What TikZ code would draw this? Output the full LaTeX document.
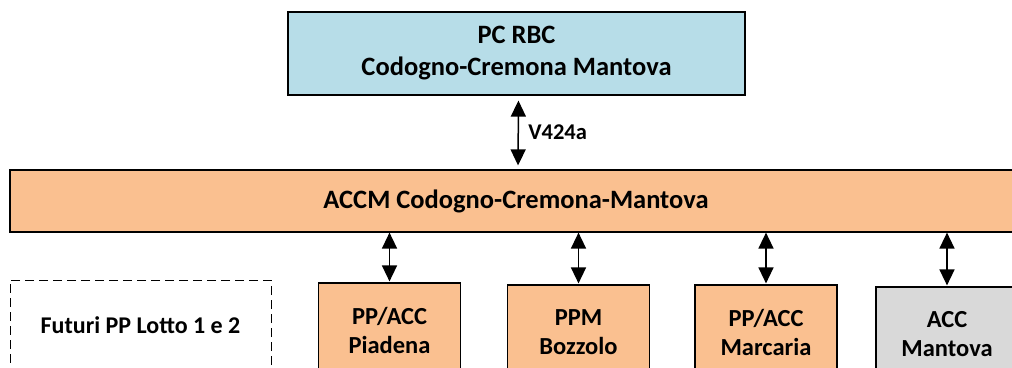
\documentclass[tikz,border=0pt]{standalone}
\usepackage{fontspec}
\setmainfont{Carlito}
\usepackage{xcolor}
\usetikzlibrary{
	positioning,						% Relative positioning
	arrows.meta							% Arrow tips
}
\definecolor{rbc-blue}{HTML}{B7DDE8}
\definecolor{accm-orange}{HTML}{FAC090}
\definecolor{acc-gray}{HTML}{D9D9D9}

\begin{document}
\begin{tikzpicture}[x=1pt, y=-1pt]
		\tikzstyle{block} = [draw, line width=1.2pt, align=center, inner sep=0pt, font=\bfseries\fontsize{24.5}{29}\selectfont]
		\tikzstyle{station} = [block, fill=accm-orange, minimum width=142pt, minimum height=94pt]
		\tikzstyle{link} = [{Triangle[length=16pt,width=15pt]}-{Triangle[length=16pt,width=15pt]}, line width=1.5pt]
		
		% Frame (picture is cut off at bottom and right)
		\useasboundingbox (0,0) rectangle (1012,367);
		\clip (0,0) rectangle (1012,367);
		
		% Top level
		\node[block, fill=rbc-blue, minimum width=457pt, minimum height=83pt, font=\bfseries\fontsize{26.5}{32}\selectfont] at (516.5, 53.5) (pcRbc) {PC RBC\\Codogno-Cremona Mantova};
		
		% Middle level
		\node[block, fill=accm-orange, minimum width=1012pt, minimum height=62pt, font=\bfseries\fontsize{26.5}{32}\selectfont] at (516, 201) (accm) {ACCM Codogno-Cremona-Mantova};
		\draw[link, shorten <=5pt, shorten >=4pt] ([xshift=2pt]pcRbc.south) -- ([xshift=2pt]accm.north) node[midway, right=6pt, font=\bfseries\fontsize{22.5}{27}\selectfont] (vLabel) {V424a};
		
		% Bottom level
		\node[block, dash pattern=on 9pt off 5pt, line width=1pt, minimum width=261pt, minimum height=90pt, font=\bfseries\fontsize{24}{29}\selectfont] at (140.5, 325) (futuri) {Futuri PP Lotto 1 e 2};
		\foreach \name/\x/\y/\txt/\col in {piadena/389.5/330/{PP/ACC\\Piadena}/accm-orange, bozzolo/578.5/332/{PPM\\Bozzolo}/accm-orange, marcaria/766/332/{PP/ACC\\Marcaria}/accm-orange, mantova/947/334/{ACC\\Mantova}/acc-gray}{
			\node[station, fill=\col] at (\x, \y) (\name) {\txt};
			\draw[link, shorten <=1pt] (\name.north) -- (\name.north |- accm.south);
		}
	\end{tikzpicture}
\end{document}
